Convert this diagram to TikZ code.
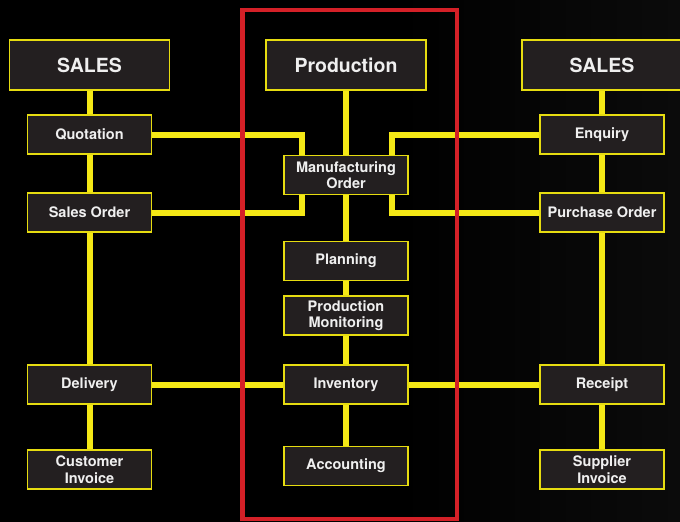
\documentclass[tikz,border=0pt]{standalone}
\usepackage{fontspec}
\setmainfont{TeX Gyre Heros}
\usetikzlibrary{backgrounds}
\definecolor{boxfill}{HTML}{231F20}
\definecolor{linkyellow}{HTML}{F4E816}
\definecolor{edgeyellow}{HTML}{E6DC10}
\definecolor{framered}{HTML}{D42027}
\definecolor{labelwhite}{HTML}{EFEFEF}
\definecolor{bgdark}{HTML}{0B0B0B}
\tikzset{
  stage/.style={draw=edgeyellow, line width=1.4pt, fill=boxfill, text=labelwhite,
    font=\bfseries\fontsize{14.5}{16.5}\selectfont, align=center,
    minimum width=124pt, minimum height=39pt, inner sep=1pt},
  headbox/.style={stage, font=\bfseries\fontsize{19.5}{22}\selectfont,
    minimum width=160pt, minimum height=50pt},
  conn/.style={draw=linkyellow, line width=6pt, line join=miter, line cap=butt},
  zone/.style={draw=framered, line width=4.5pt}
}
\begin{document}
\begin{tikzpicture}[x=1pt, y=-1pt]
  \useasboundingbox (0,0) rectangle (680,522);
  \clip (0,0) rectangle (680,522);

  % department heads
  \node[headbox] (salesL) at (89.5,65) {SALES};
  \node[headbox] (prod)   at (346,65)  {Production};
  \node[headbox] (salesR) at (602,65)  {SALES};

  % left column
  \node[stage] (quot)   at (89.5,134.5) {Quotation};
  \node[stage] (sorder) at (89.5,212.5) {Sales Order};
  \node[stage] (deliv)  at (89.5,384.5) {Delivery};
  \node[stage] (cinv)   at (89.5,469.5) {Customer\\Invoice};

  % centre column
  \node[stage] (mo)   at (346,175) {Manufacturing\\Order};
  \node[stage] (plan) at (346,261)   {Planning};
  \node[stage] (pm)   at (346,315.5) {Production\\Monitoring};
  \node[stage] (inv)  at (346,384.5) {Inventory};
  \node[stage] (acc)  at (346,466)   {Accounting};

  % right column
  \node[stage] (enq) at (602,134.5) {Enquiry};
  \node[stage] (po)  at (602,212.5) {Purchase Order};
  \node[stage] (rec) at (602,384.5) {Receipt};
  \node[stage] (sinv) at (602,469.5) {Supplier\\Invoice};

  \begin{scope}[on background layer]
    % canvas
    \fill[black] (0,0) rectangle (680,522);
    \fill[left color=black, right color=bgdark] (400,0) rectangle (680,522);
    % column spines
    \draw[conn] (salesL) -- (cinv);
    \draw[conn] (prod) -- (acc);
    \draw[conn] (salesR) -- (sinv);
    % cross links into the manufacturing order
    \draw[conn] (quot.east)   -| ([xshift=-44pt]mo.north);
    \draw[conn] (sorder.east) -| ([xshift=-44pt]mo.south);
    \draw[conn] (enq.west)    -| ([xshift=46pt]mo.north);
    \draw[conn] (po.west)     -| ([xshift=46pt]mo.south);
    % stock line
    \draw[conn] (deliv) -- (inv);
    \draw[conn] (inv) -- (rec);
  \end{scope}

  % production zone frame
  \draw[zone] (242.5,10) rectangle (457,519);
\end{tikzpicture}
\end{document}
